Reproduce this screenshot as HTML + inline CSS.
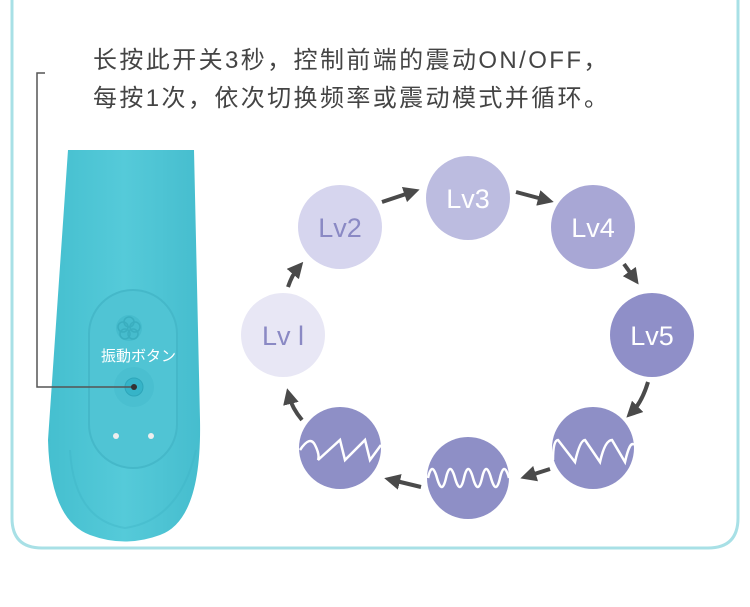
<!DOCTYPE html>
<html><head><meta charset="utf-8"><style>
html,body{margin:0;padding:0;background:#fff;}
body{width:750px;height:607px;overflow:hidden;position:relative;font-family:"Liberation Sans","Noto Sans CJK SC",sans-serif;}
.t{position:absolute;left:93px;font-size:24px;color:#444;letter-spacing:2.4px;white-space:nowrap;}
</style></head><body>
<svg width="750" height="607" style="position:absolute;left:0;top:0">
<path d="M12,0 V518 Q12,548 42,548 H708 Q738,548 738,518 V0" fill="none" stroke="#a8e0e6" stroke-width="3"/>
<defs>
<linearGradient id="g" x1="0" x2="1"><stop offset="0" stop-color="#45bfcf"/><stop offset="0.5" stop-color="#55cad9"/><stop offset="1" stop-color="#46bdce"/></linearGradient>
<marker id="a" markerWidth="4" markerHeight="4" refX="2" refY="2" orient="auto"><path d="M0,0 L4,2 L0,4 Z" fill="#4a4a4a"/></marker>
</defs>
<path d="M68,150 H194 L200,420 Q202,520 160,535 Q125,548 90,535 Q50,520 48,440 Z" fill="url(#g)"/>
<path d="M70,450 Q74,520 125,528 Q180,520 196,450" fill="none" stroke="#3fb5c6" stroke-width="2" opacity="0.4"/>
<rect x="89" y="290" width="88" height="178" rx="44" fill="#50c4d4" stroke="#45b8c9" stroke-width="2"/>
<circle cx="129" cy="328" r="13" fill="#46bccd"/>
<g fill="none" stroke="#3aaebf" stroke-width="1.5"><circle cx="129" cy="322" r="5"/><circle cx="123" cy="327" r="5"/><circle cx="135" cy="327" r="5"/><circle cx="125" cy="334" r="5"/><circle cx="133" cy="334" r="5"/></g>
<circle cx="134" cy="387" r="20" fill="#4abfd0"/>
<circle cx="134" cy="387" r="9" fill="#36b4c8" stroke="#2ea6ba"/>
<circle cx="116" cy="436" r="3" fill="#eee"/><circle cx="151" cy="436" r="3" fill="#eee"/>
<text x="101" y="361" font-size="15" fill="#fff" font-family="Liberation Sans,Noto Sans CJK JP,sans-serif">振動ボタン</text>
<path d="M45,73 H37 V387 H134" fill="none" stroke="#555" stroke-width="1.5"/>
<circle cx="134" cy="387" r="3" fill="#333"/>
<circle cx="283" cy="335" r="42" fill="#e8e7f5"/>
<circle cx="340" cy="227" r="42" fill="#d6d5ee"/>
<circle cx="468" cy="198" r="42" fill="#bcbce0"/>
<circle cx="593" cy="227" r="42" fill="#a8a7d5"/>
<circle cx="652" cy="335" r="42" fill="#8f8fc8"/>
<circle cx="593" cy="448" r="41" fill="#8e8fc6"/>
<circle cx="468" cy="478" r="41" fill="#8e8fc6"/>
<circle cx="340" cy="448" r="41" fill="#8e8fc6"/>
<g font-family="Liberation Sans,sans-serif" font-size="27" text-anchor="middle">
<text x="283" y="345" fill="#8a89c4">Lv l</text>
<text x="340" y="237" fill="#8a89c4">Lv2</text>
<text x="468" y="208" fill="#fff">Lv3</text>
<text x="593" y="237" fill="#fff">Lv4</text>
<text x="652" y="345" fill="#fff">Lv5</text>
</g>
<g fill="none" stroke="#fff" stroke-width="2.5">
<path d="M300,450 Q310,435 315,445 T318,460 L340,440 Q345,460 345,460 L365,440 Q370,460 370,460 L381,445"/>
<path d="M428,478 Q432,460 437,478 T446,478 T455,478 T464,478 T473,478 T482,478 T491,478 T500,478 T509,478"/>
<path d="M553,460 Q553,440 558,440 L575,462 Q580,440 585,440 L600,462 Q605,440 612,440 L625,462 Q630,440 634,445"/>
</g>
<g fill="none" stroke="#4a4a4a" stroke-width="4" marker-end="url(#a)">
<path d="M288,287 Q292,275 298,268"/>
<path d="M382,202 L412,192"/>
<path d="M516,192 L546,200"/>
<path d="M624,264 L634,278"/>
<path d="M648,382 Q642,402 632,412"/>
<path d="M550,469 L528,476"/>
<path d="M421,487 L392,480"/>
<path d="M302,420 Q292,408 289,396"/>
</g>
</svg>
<div class="t" style="top:40px">长按此开关3秒，控制前端的震动ON/OFF，</div>
<div class="t" style="top:78px">每按1次，依次切换频率或震动模式并循环。</div>
</body></html>
